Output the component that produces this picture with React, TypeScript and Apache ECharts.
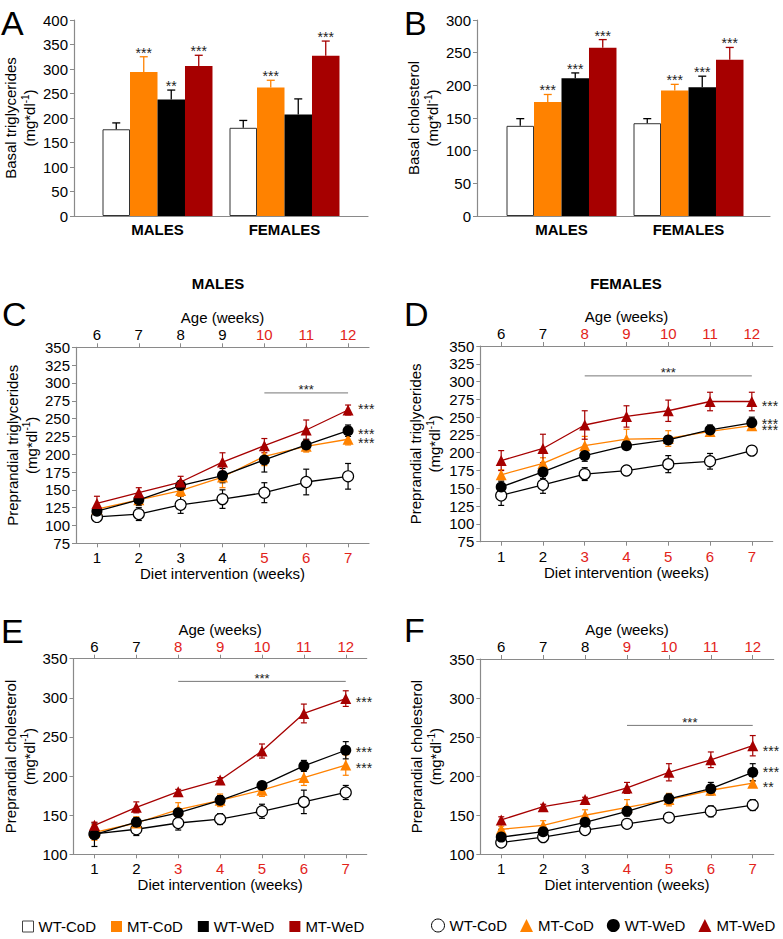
import React, { useEffect, useRef } from "react";
import * as echarts from "echarts";

// ---------- categories / ticks ----------
const GROUPS = ["WT-CoD", "MT-CoD", "WT-WeD", "MT-WeD"];
const SEXES = ["MALES", "FEMALES"];
const DIET_WEEKS = ["1", "2", "3", "4", "5", "6", "7"];
const AGE_WEEKS = ["6", "7", "8", "9", "10", "11", "12"];

// ---------- A: basal triglycerides [males, females] ----------
const A_WT_COD = [177, 180];
const A_MT_COD = [294, 262];
const A_WT_WED = [238, 207];
const A_MT_WED = [306, 327];
const A_WT_COD_ERR = [13, 15];
const A_MT_COD_ERR = [31, 15];
const A_WT_WED_ERR = [19, 32];
const A_MT_WED_ERR = [22, 30];
const A_WT_COD_SIG = ["", ""];
const A_MT_COD_SIG = ["***", "***"];
const A_WT_WED_SIG = ["**", ""];
const A_MT_WED_SIG = ["***", "***"];

// ---------- B: basal cholesterol [males, females] ----------
const B_WT_COD = [138, 142];
const B_MT_COD = [174.5, 192];
const B_WT_WED = [211, 197];
const B_MT_WED = [257.5, 239];
const B_WT_COD_ERR = [11, 7];
const B_MT_COD_ERR = [11.5, 9.5];
const B_WT_WED_ERR = [8, 17];
const B_MT_WED_ERR = [12.5, 19];
const B_WT_COD_SIG = ["", ""];
const B_MT_COD_SIG = ["***", "***"];
const B_WT_WED_SIG = ["***", "***"];
const B_MT_WED_SIG = ["***", "***"];

// ---------- C: males preprandial triglycerides ----------
const C_WT_COD = [112, 116, 129, 137, 146, 161, 169];
const C_MT_COD = [123, 136, 149, 168, 197, 211, 221];
const C_WT_WED = [120, 136, 156, 170, 192, 213, 233];
const C_MT_WED = [131, 146, 161, 189, 212, 234, 262];
const C_WT_COD_ERR = [3, 9, 12, 13, 14, 18, 18];
const C_MT_COD_ERR = [4, 5, 8, 15, 13, 8, 8];
const C_WT_WED_ERR = [5, 8, 7, 10, 17, 8, 8];
const C_MT_WED_ERR = [10, 7, 8, 13, 10, 14, 7];
const C_BRACKET = [5, 7, 286]; // from week, to week, level
const C_END_SIG = ["", "***", "***", "***"];
const C_END_SIG_LEVEL = [0, 220, 233, 268];
const C_RED_FROM = 5;

// ---------- D: females preprandial triglycerides ----------
const D_WT_COD = [140, 155, 170, 175, 184, 188, 203];
const D_MT_COD = [169, 185, 210, 219, 220, 230, 238];
const D_WT_WED = [152, 173, 196, 210, 218, 232, 242];
const D_MT_WED = [189, 206, 239, 251, 259, 272, 272];
const D_WT_COD_ERR = [14, 12, 9, 7, 12, 11, 6];
const D_MT_COD_ERR = [7, 8, 13, 14, 11, 5, 5];
const D_WT_WED_ERR = [8, 9, 8, 5, 5, 7, 8];
const D_MT_WED_ERR = [14, 20, 20, 15, 15, 13, 13];
const D_BRACKET = [3, 7, 308];
const D_END_SIG = ["", "***", "***", "***"];
const D_END_SIG_LEVEL = [0, 235.5, 244.5, 269.5];
const D_RED_FROM = 3;

// ---------- E: males preprandial cholesterol ----------
const E_WT_COD = [126, 132, 140, 145, 155, 167, 179];
const E_MT_COD = [128, 140, 157, 169, 182, 198, 214];
const E_WT_WED = [125, 141, 153, 169, 188, 213, 233];
const E_MT_WED = [137, 160, 180, 195, 232, 280, 299];
const E_WT_COD_ERR = [5, 8, 9, 7, 9, 15, 9];
const E_MT_COD_ERR = [10, 8, 9, 8, 8, 10, 13];
const E_WT_WED_ERR = [15, 6, 5, 6, 4, 7, 11];
const E_MT_WED_ERR = [4, 7, 3, 3, 9, 12, 10];
const E_BRACKET = [3, 7, 321];
const E_END_SIG = ["", "***", "***", "***"];
const E_END_SIG_LEVEL = [0, 214, 235, 299];
const E_RED_FROM = 3;

// ---------- F: females preprandial cholesterol ----------
const F_WT_COD = [115, 122, 131, 139, 147, 155, 163];
const F_MT_COD = [132, 137, 150, 160, 170, 182, 191];
const F_WT_WED = [122, 129, 141, 155, 171, 184, 205];
const F_MT_WED = [144, 161, 170, 185, 205, 221, 239];
const F_WT_COD_ERR = [5, 3, 3, 3, 6, 7, 7];
const F_MT_COD_ERR = [4, 6, 7, 10, 8, 4, 3];
const F_WT_WED_ERR = [10, 5, 5, 6, 6, 8, 11];
const F_MT_WED_ERR = [4, 3, 3, 7, 11, 10, 13];
const F_BRACKET = [4, 7, 265];
const F_END_SIG = ["", "**", "***", "***"];
const F_END_SIG_LEVEL = [0, 190, 209, 236.5];
const F_RED_FROM = 4;

// ---------- styles ----------
const FONT = "'Liberation Sans', Arial, Helvetica, sans-serif";
const ORANGE = "#FF8200";
const DARKRED = "#A60000";
const AXIS = "#8a8a8a";
const RED_TXT = "#E2231A";
const STAR = "#222";
const FILL = ["#ffffff", ORANGE, "#000000", DARKRED];
const ERRC = ["#000000", ORANGE, "#000000", DARKRED];
const SYMBOL = ["circle", "triangle", "circle", "triangle"];
const BAR_FRAC = 0.2165;

const ratioName = (first: string) => first + "\n(mg*dl{sup|-1})";
const nameStyle = {
  fontSize: 15,
  lineHeight: 19,
  color: "#000",
  fontFamily: FONT,
  rich: {
    sup: { fontSize: 10, verticalAlign: "top", color: "#000", fontFamily: FONT },
  },
};

function buildOption() {
  const grid: any[] = [];
  const xAxis: any[] = [];
  const yAxis: any[] = [];
  const series: any[] = [];

  const yAxisCfg = (gi: number, min: number, max: number, interval: number, name: string, nameGap: number) => ({
    gridIndex: gi,
    type: "value",
    min,
    max,
    interval,
    axisLine: { show: true, onZero: false, lineStyle: { color: AXIS, width: 1.2 } },
    axisTick: { show: true, length: 4, lineStyle: { color: AXIS } },
    splitLine: { show: false },
    axisLabel: { fontSize: 15, margin: 6, color: "#000", fontFamily: FONT },
    name: ratioName(name),
    nameLocation: "middle",
    nameGap,
    nameTextStyle: nameStyle,
  });

  // ---- bar panel ----
  const addBarPanel = (
    frame: number[],
    bars: number[],
    max: number,
    yName: string,
    nameGap: number,
    means: number[][],
    errs: number[][],
    sigs: string[][]
  ) => {
    const gFrame = grid.length;
    grid.push({ left: frame[0], top: 20, width: frame[1], height: 196, outerBoundsMode: "none" });
    const gBars = grid.length;
    grid.push({ left: bars[0], top: 20, width: bars[1], height: 196, outerBoundsMode: "none" });
    xAxis.push({
      gridIndex: gFrame,
      type: "value",
      min: 0,
      max: 1,
      axisLine: { show: true, onZero: false, lineStyle: { color: AXIS, width: 1.2 } },
      axisTick: { show: false },
      axisLabel: { show: false },
      splitLine: { show: false },
    });
    yAxis.push(yAxisCfg(gFrame, 0, max, 50, yName, nameGap));
    const xi = xAxis.length;
    xAxis.push({
      gridIndex: gBars,
      type: "category",
      data: SEXES,
      axisLine: { show: false },
      axisTick: { show: false },
      axisLabel: { fontSize: 15, fontWeight: "bold", color: "#000", margin: 6, fontFamily: FONT },
    });
    const yi = yAxis.length;
    yAxis.push({ gridIndex: gBars, type: "value", min: 0, max, show: false });
    for (let k = 0; k < 4; k++) {
      series.push({
        type: "bar",
        name: GROUPS[k],
        xAxisIndex: xi,
        yAxisIndex: yi,
        data: means[k],
        barWidth: BAR_FRAC * 100 + "%",
        barGap: "0%",
        silent: true,
        z: 2,
        emphasis: { disabled: true },
        itemStyle: { color: FILL[k], borderColor: k === 0 ? "#333" : FILL[k], borderWidth: k === 0 ? 1 : 0 },
      });
    }
    for (let k = 0; k < 4; k++) {
      const col = ERRC[k];
      const sg = sigs[k];
      series.push({
        type: "custom",
        xAxisIndex: xi,
        yAxisIndex: yi,
        z: 4,
        silent: true,
        clip: false,
        encode: { x: 0, y: 1 },
        data: means[k].map((m, i) => [i, m, errs[k][i]]),
        renderItem: (params: any, api: any) => {
          const i = api.value(0);
          const m = api.value(1);
          const e = api.value(2);
          const band = api.size([1, 0])[0];
          const bw = band * BAR_FRAC;
          const base = api.coord([i, m]);
          const cx = base[0] + (k - 1.5) * bw;
          const top = api.coord([i, m + e])[1];
          const children: any[] = [
            { type: "line", shape: { x1: cx, y1: base[1], x2: cx, y2: top }, style: { stroke: col, lineWidth: 1.3 } },
            { type: "line", shape: { x1: cx - 4, y1: top, x2: cx + 4, y2: top }, style: { stroke: col, lineWidth: 1.3 } },
          ];
          const s = sg[params.dataIndex];
          if (s) {
            children.push({
              type: "text",
              x: cx,
              y: top - 4,
              style: {
                text: s,
                fill: STAR,
                fontSize: 14,
                lineHeight: 8,
                fontFamily: FONT,
                align: "center",
                verticalAlign: "middle",
              },
            });
          }
          return { type: "group", children };
        },
      });
    }
  };

  // ---- line panel ----
  const addLinePanel = (
    box: number[],
    min: number,
    max: number,
    interval: number,
    yName: string,
    nameGap: number,
    redFrom: number,
    means: number[][],
    errs: number[][],
    bracket: number[],
    endSig: string[],
    endLevel: number[]
  ) => {
    const gi = grid.length;
    grid.push({ left: box[0], top: box[1], width: box[2], height: box[3], outerBoundsMode: "none" });
    const labelColor = (_v: any, idx: number) => (idx + 1 >= redFrom ? RED_TXT : "#000");
    const xi = xAxis.length;
    xAxis.push({
      gridIndex: gi,
      type: "category",
      data: DIET_WEEKS,
      position: "bottom",
      boundaryGap: true,
      axisLine: { show: true, onZero: false, lineStyle: { color: AXIS, width: 1.2 } },
      axisTick: { show: true, alignWithLabel: true, length: 4, lineStyle: { color: AXIS } },
      axisLabel: { fontSize: 15, margin: 7, color: labelColor, fontFamily: FONT },
      splitLine: { show: false },
      name: "Diet intervention (weeks)",
      nameLocation: "middle",
      nameGap: 22,
      nameTextStyle: { fontSize: 15, color: "#000", fontFamily: FONT },
    });
    xAxis.push({
      gridIndex: gi,
      type: "category",
      data: AGE_WEEKS,
      position: "top",
      boundaryGap: true,
      axisLine: { show: true, onZero: false, lineStyle: { color: AXIS, width: 1.2 } },
      axisTick: { show: true, alignWithLabel: true, length: 4, lineStyle: { color: AXIS } },
      axisLabel: { fontSize: 15, margin: 5, color: labelColor, fontFamily: FONT },
      splitLine: { show: false },
      name: "Age (weeks)",
      nameLocation: "middle",
      nameGap: 22,
      nameTextStyle: { fontSize: 15, color: "#000", fontFamily: FONT },
    });
    const yi = yAxis.length;
    yAxis.push(yAxisCfg(gi, min, max, interval, yName, nameGap));

    for (let k = 0; k < 4; k++) {
      const col = ERRC[k];
      series.push({
        type: "custom",
        xAxisIndex: xi,
        yAxisIndex: yi,
        z: 2,
        silent: true,
        clip: false,
        encode: { x: 0, y: 1 },
        data: means[k].map((m, i) => [i, m, errs[k][i]]),
        renderItem: (_params: any, api: any) => {
          const i = api.value(0);
          const m = api.value(1);
          const e = api.value(2);
          const p1 = api.coord([i, m + e]);
          const p2 = api.coord([i, m - e]);
          const x = p1[0];
          const st = { stroke: col, lineWidth: 1.2 };
          return {
            type: "group",
            children: [
              { type: "line", shape: { x1: x, y1: p1[1], x2: x, y2: p2[1] }, style: st },
              { type: "line", shape: { x1: x - 3, y1: p1[1], x2: x + 3, y2: p1[1] }, style: st },
              { type: "line", shape: { x1: x - 3, y1: p2[1], x2: x + 3, y2: p2[1] }, style: st },
            ],
          };
        },
      });
    }
    for (let k = 0; k < 4; k++) {
      series.push({
        type: "line",
        name: GROUPS[k],
        xAxisIndex: xi,
        yAxisIndex: yi,
        data: means[k],
        z: 3 + k * 0.1,
        silent: true,
        emphasis: { disabled: true },
        symbol: SYMBOL[k],
        symbolSize: 11,
        showSymbol: true,
        lineStyle: { color: k === 0 ? "#000" : FILL[k], width: 1.3 },
        itemStyle: {
          color: FILL[k],
          borderColor: k === 0 ? "#000" : FILL[k],
          borderWidth: k === 0 ? 1.2 : 0,
        },
      });
    }
    // significance bracket
    series.push({
      type: "custom",
      xAxisIndex: xi,
      yAxisIndex: yi,
      z: 5,
      silent: true,
      clip: false,
      encode: { x: 0, y: 1 },
      data: [[bracket[0] - 1, bracket[2]]],
      renderItem: (_params: any, api: any) => {
        const p1 = api.coord([api.value(0), api.value(1)]);
        const p2 = api.coord([bracket[1] - 1, api.value(1)]);
        return {
          type: "group",
          children: [
            { type: "line", shape: { x1: p1[0], y1: p1[1], x2: p2[0], y2: p2[1] }, style: { stroke: "#777", lineWidth: 1 } },
            {
              type: "text",
              x: (p1[0] + p2[0]) / 2,
              y: p1[1] - 3,
              style: {
                text: "***",
                fill: STAR,
                fontSize: 13,
                lineHeight: 8,
                fontFamily: FONT,
                align: "center",
                verticalAlign: "middle",
              },
            },
          ],
        };
      },
    });
    // end-point significance: nearby marks are stacked into one multi-line text
    series.push({
      type: "custom",
      xAxisIndex: xi,
      yAxisIndex: yi,
      z: 5,
      silent: true,
      clip: false,
      encode: { x: 0, y: 1 },
      data: [[6, endLevel[3]]],
      renderItem: (_params: any, api: any) => {
        const pts: { y: number; s: string; x: number }[] = [];
        for (let k = 0; k < 4; k++) {
          if (!endSig[k]) continue;
          const p = api.coord([6, endLevel[k]]);
          pts.push({ x: p[0], y: p[1], s: endSig[k] });
        }
        pts.sort((a, b) => a.y - b.y);
        const clusters: { y: number; s: string; x: number }[][] = [];
        for (const p of pts) {
          const last = clusters[clusters.length - 1];
          if (last && p.y - last[last.length - 1].y < 13) last.push(p);
          else clusters.push([p]);
        }
        const children = clusters.map((c) => {
          const y0 = c[0].y;
          const y1 = c[c.length - 1].y;
          const lh = c.length > 1 ? (y1 - y0) / (c.length - 1) : 8;
          return {
            type: "text",
            x: c[0].x + 10,
            y: (y0 + y1) / 2 + 3,
            style: {
              text: c.map((p) => p.s).join("\n"),
              fill: STAR,
              fontSize: 14,
              lineHeight: lh,
              fontFamily: FONT,
              align: "left",
              verticalAlign: "middle",
            },
          };
        });
        return { type: "group", children };
      },
    });
  };

  addBarPanel(
    [74, 294],
    [94, 254],
    400,
    "Basal triglycerides",
    35,
    [A_WT_COD, A_MT_COD, A_WT_WED, A_MT_WED],
    [A_WT_COD_ERR, A_MT_COD_ERR, A_WT_WED_ERR, A_MT_WED_ERR],
    [A_WT_COD_SIG, A_MT_COD_SIG, A_WT_WED_SIG, A_MT_WED_SIG]
  );
  addBarPanel(
    [477, 293],
    [498, 254],
    300,
    "Basal cholesterol",
    34.5,
    [B_WT_COD, B_MT_COD, B_WT_WED, B_MT_WED],
    [B_WT_COD_ERR, B_MT_COD_ERR, B_WT_WED_ERR, B_MT_WED_ERR],
    [B_WT_COD_SIG, B_MT_COD_SIG, B_WT_WED_SIG, B_MT_WED_SIG]
  );
  addLinePanel(
    [76, 347.3, 293, 196],
    75,
    350,
    25,
    "Preprandial triglycerides",
    35.5,
    C_RED_FROM,
    [C_WT_COD, C_MT_COD, C_WT_WED, C_MT_WED],
    [C_WT_COD_ERR, C_MT_COD_ERR, C_WT_WED_ERR, C_MT_WED_ERR],
    C_BRACKET,
    C_END_SIG,
    C_END_SIG_LEVEL
  );
  addLinePanel(
    [480.3, 346, 292.4, 195.7],
    75,
    350,
    25,
    "Preprandial triglycerides",
    36.3,
    D_RED_FROM,
    [D_WT_COD, D_MT_COD, D_WT_WED, D_MT_WED],
    [D_WT_COD_ERR, D_MT_COD_ERR, D_WT_WED_ERR, D_MT_WED_ERR],
    D_BRACKET,
    D_END_SIG,
    D_END_SIG_LEVEL
  );
  addLinePanel(
    [73.5, 658.7, 293.2, 195.6],
    100,
    350,
    50,
    "Preprandial cholesterol",
    34.6,
    E_RED_FROM,
    [E_WT_COD, E_MT_COD, E_WT_WED, E_MT_WED],
    [E_WT_COD_ERR, E_MT_COD_ERR, E_WT_WED_ERR, E_MT_WED_ERR],
    E_BRACKET,
    E_END_SIG,
    E_END_SIG_LEVEL
  );
  addLinePanel(
    [480.3, 659, 293.4, 195.3],
    100,
    350,
    50,
    "Preprandial cholesterol",
    32.5,
    F_RED_FROM,
    [F_WT_COD, F_MT_COD, F_WT_WED, F_MT_WED],
    [F_WT_COD_ERR, F_MT_COD_ERR, F_WT_WED_ERR, F_MT_WED_ERR],
    F_BRACKET,
    F_END_SIG,
    F_END_SIG_LEVEL
  );

  const letter = (t: string, x: number, y: number) => ({
    type: "text",
    x,
    y,
    silent: true,
    style: { text: t, fill: "#000", fontSize: 34, fontFamily: FONT, align: "left", verticalAlign: "middle" },
  });
  const header = (t: string, x: number, y: number) => ({
    type: "text",
    x,
    y,
    silent: true,
    style: { text: t, fill: "#000", fontSize: 15, fontWeight: "bold", fontFamily: FONT, align: "center", verticalAlign: "middle" },
  });

  const textStyle = { fontSize: 15, color: "#000", fontFamily: FONT };

  return {
    animation: false,
    textStyle: { fontFamily: FONT },
    grid,
    xAxis,
    yAxis,
    series,
    legend: [
      {
        left: 22,
        top: 919,
        padding: 0,
        itemWidth: 11,
        itemHeight: 11,
        itemGap: 15,
        selectedMode: false,
        textStyle,
        data: [
          { name: GROUPS[0], icon: "rect", itemStyle: { color: "#fff", borderColor: "#444", borderWidth: 1 } },
          { name: GROUPS[1], icon: "rect", itemStyle: { color: ORANGE, borderWidth: 0 } },
          { name: GROUPS[2], icon: "rect", itemStyle: { color: "#000", borderWidth: 0 } },
          { name: GROUPS[3], icon: "rect", itemStyle: { color: DARKRED, borderWidth: 0 } },
        ],
      },
      {
        left: 431,
        top: 918,
        padding: 0,
        itemWidth: 13,
        itemHeight: 13,
        itemGap: 13,
        selectedMode: false,
        textStyle,
        data: [
          { name: GROUPS[0], icon: "circle", itemStyle: { color: "#fff", borderColor: "#000", borderWidth: 1 } },
          { name: GROUPS[1], icon: "triangle", itemStyle: { color: ORANGE, borderWidth: 0 } },
          { name: GROUPS[2], icon: "circle", itemStyle: { color: "#000", borderWidth: 0 } },
          { name: GROUPS[3], icon: "triangle", itemStyle: { color: DARKRED, borderWidth: 0 } },
        ],
      },
    ],
    graphic: [
      letter("A", 1, 22.5),
      letter("B", 404, 22.5),
      letter("C", 2, 314),
      letter("D", 404, 313.5),
      letter("E", 1, 630.5),
      letter("F", 404, 630),
      header("MALES", 218, 283),
      header("FEMALES", 626, 283),
    ],
  };
}

export default function App() {
  const ref = useRef<HTMLDivElement>(null);
  useEffect(() => {
    if (!ref.current) return;
    const chart = echarts.init(ref.current, null, { renderer: "svg" });
    chart.setOption(buildOption() as any);
    return () => chart.dispose();
  }, []);
  return (
    <div
      ref={ref}
      style={{ position: "absolute", left: 0, top: 0, width: 783, height: 939, background: "#fff" }}
    />
  );
}
